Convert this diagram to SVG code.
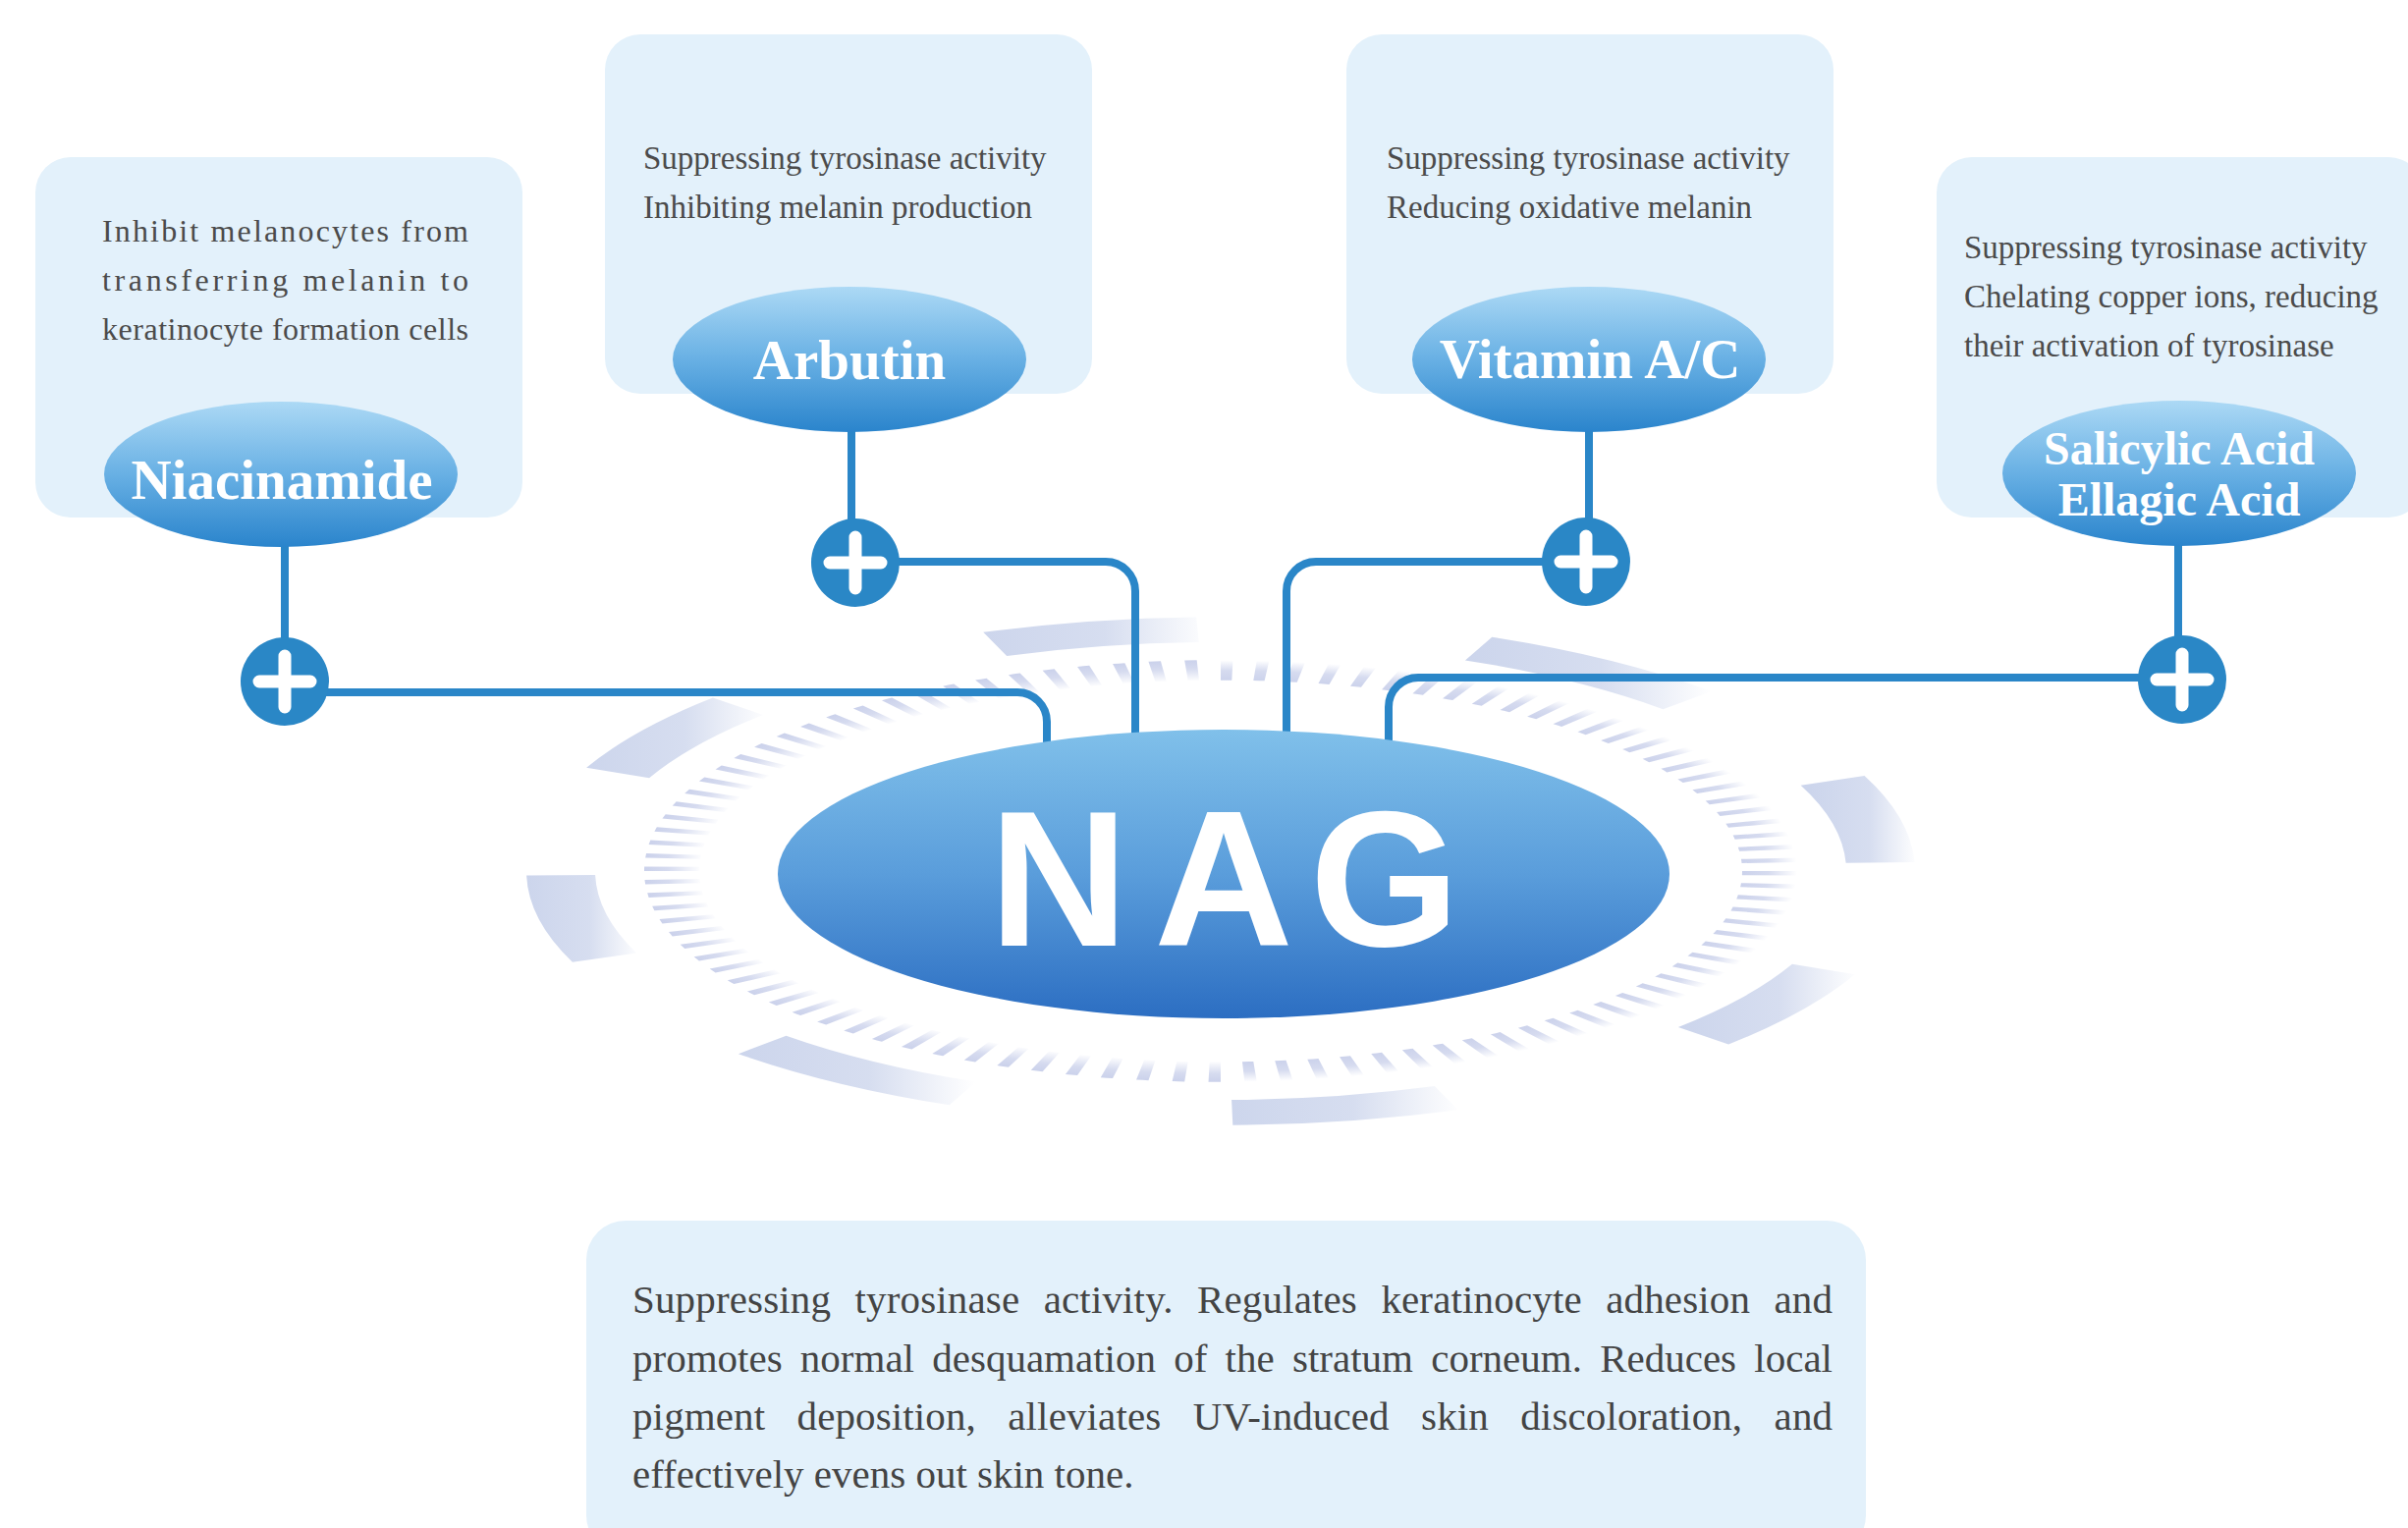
<svg xmlns="http://www.w3.org/2000/svg" width="2452" height="1556" viewBox="0 0 2452 1556">
<style>
.box{fill:#e3f1fb}
.desc{font-family:"Liberation Serif","Times New Roman",serif;font-size:33px;fill:#4b4b4b}
.body{font-family:"Liberation Serif","Times New Roman",serif;font-size:41px;fill:#444}
.lbl{font-family:"Liberation Serif","Times New Roman",serif;font-weight:bold;font-size:57px;fill:#fff;text-anchor:middle}
.conn{fill:none;stroke:#2a86c8;stroke-width:8;stroke-linecap:round}
.dot{fill:#2a87c6}
.plus{fill:none;stroke:#fff;stroke-width:13;stroke-linecap:round}
.tick{fill:none;stroke-width:56;stroke-dasharray:0.34 0.66}
.arc{fill:none;stroke-width:70}
</style>
<defs>
<linearGradient id="gSmall" x1="0" y1="0" x2="0" y2="1">
<stop offset="0" stop-color="#acd9f5"/>
<stop offset="0.5" stop-color="#68b0e4"/>
<stop offset="1" stop-color="#2a84cc"/>
</linearGradient>
<linearGradient id="gNag" x1="0" y1="0" x2="0" y2="1">
<stop offset="0" stop-color="#80c0ea"/>
<stop offset="0.5" stop-color="#5a9ddb"/>
<stop offset="1" stop-color="#2c6ec2"/>
</linearGradient>
<radialGradient id="tickL" gradientUnits="userSpaceOnUse" cx="0" cy="0" r="587">
<stop offset="0.9" stop-color="#c8cfea" stop-opacity="0"/>
<stop offset="0.96" stop-color="#c8cfea" stop-opacity="0.75"/>
<stop offset="1" stop-color="#c8cfea" stop-opacity="0.95"/>
</radialGradient>
<radialGradient id="tickR" gradientUnits="userSpaceOnUse" cx="0" cy="0" r="587">
<stop offset="0.9" stop-color="#c8cfea" stop-opacity="0.95"/>
<stop offset="0.95" stop-color="#c8cfea" stop-opacity="0.75"/>
<stop offset="1" stop-color="#c8cfea" stop-opacity="0"/>
</radialGradient>
<linearGradient id="a1" gradientUnits="userSpaceOnUse" x1="-250" y1="0" x2="-10" y2="0"><stop offset="0" stop-color="#ccd5ec"/><stop offset="0.55" stop-color="#ccd5ec" stop-opacity="0.8"/><stop offset="1" stop-color="#ccd5ec" stop-opacity="0"/></linearGradient>
<linearGradient id="a2" gradientUnits="userSpaceOnUse" x1="250" y1="0" x2="500" y2="0"><stop offset="0" stop-color="#ccd5ec"/><stop offset="0.55" stop-color="#ccd5ec" stop-opacity="0.8"/><stop offset="1" stop-color="#ccd5ec" stop-opacity="0"/></linearGradient>
<linearGradient id="a3" gradientUnits="userSpaceOnUse" x1="600" y1="0" x2="710" y2="0"><stop offset="0" stop-color="#ccd5ec"/><stop offset="0.55" stop-color="#ccd5ec" stop-opacity="0.8"/><stop offset="1" stop-color="#ccd5ec" stop-opacity="0"/></linearGradient>
<linearGradient id="a4" gradientUnits="userSpaceOnUse" x1="470" y1="0" x2="650" y2="0"><stop offset="0" stop-color="#ccd5ec"/><stop offset="0.55" stop-color="#ccd5ec" stop-opacity="0.8"/><stop offset="1" stop-color="#ccd5ec" stop-opacity="0"/></linearGradient>
<linearGradient id="a5" gradientUnits="userSpaceOnUse" x1="0" y1="0" x2="245" y2="0"><stop offset="0" stop-color="#ccd5ec"/><stop offset="0.55" stop-color="#ccd5ec" stop-opacity="0.8"/><stop offset="1" stop-color="#ccd5ec" stop-opacity="0"/></linearGradient>
<linearGradient id="a6" gradientUnits="userSpaceOnUse" x1="-490" y1="0" x2="-250" y2="0"><stop offset="0" stop-color="#ccd5ec"/><stop offset="0.55" stop-color="#ccd5ec" stop-opacity="0.8"/><stop offset="1" stop-color="#ccd5ec" stop-opacity="0"/></linearGradient>
<linearGradient id="a7" gradientUnits="userSpaceOnUse" x1="-707" y1="0" x2="-590" y2="0"><stop offset="0" stop-color="#ccd5ec"/><stop offset="0.55" stop-color="#ccd5ec" stop-opacity="0.8"/><stop offset="1" stop-color="#ccd5ec" stop-opacity="0"/></linearGradient>
<linearGradient id="a8" gradientUnits="userSpaceOnUse" x1="-650" y1="0" x2="-460" y2="0"><stop offset="0" stop-color="#ccd5ec"/><stop offset="0.55" stop-color="#ccd5ec" stop-opacity="0.8"/><stop offset="1" stop-color="#ccd5ec" stop-opacity="0"/></linearGradient>
<g id="plusIcon">
<circle class="dot" cx="0" cy="0" r="45"/>
<path class="plus" d="M-26 0H26M0 -26V26"/>
</g>
</defs>
<rect width="2452" height="1556" fill="#fff"/>

<g id="decor-ring" transform="translate(1243,887) scale(1,0.366)">
<path class="tick" stroke="url(#tickL)" pathLength="50" d="M0 559A559 559 0 0 1 0 -559"/>
<path class="tick" stroke="url(#tickR)" pathLength="50" d="M0 -559A559 559 0 0 1 0 559"/>
<path class="arc" stroke="url(#a1)" d="M-229.8 -631.5A672 672 0 0 1 -23.5 -671.6"/>
<path class="arc" stroke="url(#a2)" d="M262.6 -618.6A672 672 0 0 1 475.2 -475.2"/>
<path class="arc" stroke="url(#a3)" d="M623.1 -251.7A672 672 0 0 1 671.6 -23.5"/>
<path class="arc" stroke="url(#a4)" d="M613.9 273.3A672 672 0 0 1 491.5 458.3"/>
<path class="arc" stroke="url(#a5)" d="M229.8 631.5A672 672 0 0 1 11.7 671.9"/>
<path class="arc" stroke="url(#a6)" d="M-262.6 618.6A672 672 0 0 1 -466.8 483.4"/>
<path class="arc" stroke="url(#a7)" d="M-627.4 240.8A672 672 0 0 1 -671.9 11.7"/>
<path class="arc" stroke="url(#a8)" d="M-613.9 -273.3A672 672 0 0 1 -491.5 -458.3"/>
</g>

<g id="box-niacinamide"><rect class="box" x="36" y="160" width="496" height="367" rx="36"/>
<text class="desc" style="font-size:32px" x="104" y="246" textLength="373" lengthAdjust="spacing">Inhibit melanocytes from</text>
<text class="desc" style="font-size:32px" x="104" y="296" textLength="373" lengthAdjust="spacing">transferring melanin to</text>
<text class="desc" style="font-size:32px" x="104" y="346" textLength="373" lengthAdjust="spacing">keratinocyte formation cells</text></g>
<g id="box-arbutin"><rect class="box" x="616" y="35" width="496" height="366" rx="36"/>
<text class="desc" x="655" y="172">Suppressing tyrosinase activity</text>
<text class="desc" x="655" y="222">Inhibiting melanin production</text></g>
<g id="box-vitamin"><rect class="box" x="1371" y="35" width="496" height="366" rx="36"/>
<text class="desc" x="1412" y="172">Suppressing tyrosinase activity</text>
<text class="desc" x="1412" y="222">Reducing oxidative melanin</text></g>
<g id="box-acids"><rect class="box" x="1972" y="160" width="496" height="367" rx="36"/>
<text class="desc" x="2000" y="263">Suppressing tyrosinase activity</text>
<text class="desc" x="2000" y="313">Chelating copper ions, reducing</text>
<text class="desc" x="2000" y="363">their activation of tyrosinase</text></g>

<g id="connectors">
<path class="conn" d="M290 540V660"/>
<path class="conn" d="M330 705H1036A30 30 0 0 1 1066 735V775"/>
<path class="conn" d="M867 420V540"/>
<path class="conn" d="M912 572H1126A30 30 0 0 1 1156 602V770"/>
<path class="conn" d="M1618 420V540"/>
<path class="conn" d="M1570 572H1340A30 30 0 0 0 1310 602V770"/>
<path class="conn" d="M2218 540V660"/>
<path class="conn" d="M2177 690H1444A30 30 0 0 0 1414 720V775"/>
<use href="#plusIcon" x="290" y="694"/>
<use href="#plusIcon" x="871" y="573"/>
<use href="#plusIcon" x="1615" y="572"/>
<use href="#plusIcon" x="2222" y="692"/>
</g>

<g id="node-niacinamide"><ellipse cx="286" cy="483" rx="180" ry="74" fill="url(#gSmall)"/>
<text class="lbl" x="287" y="508">Niacinamide</text></g>
<g id="node-arbutin"><ellipse cx="865" cy="366" rx="180" ry="74" fill="url(#gSmall)"/>
<text class="lbl" x="865" y="386">Arbutin</text></g>
<g id="node-vitamin"><ellipse cx="1618" cy="366" rx="180" ry="74" fill="url(#gSmall)"/>
<text class="lbl" x="1619" y="385">Vitamin A/C</text></g>
<g id="node-acids"><ellipse cx="2219" cy="482" rx="180" ry="74" fill="url(#gSmall)"/>
<text class="lbl" style="font-size:48px" x="2219" y="473">Salicylic Acid</text>
<text class="lbl" style="font-size:48px" x="2219" y="525">Ellagic Acid</text></g>

<g id="node-nag"><ellipse cx="1246" cy="890" rx="454" ry="147" fill="url(#gNag)"/>
<text font-family="'Liberation Sans',Arial,sans-serif" font-weight="bold" font-size="196" fill="#fff" text-anchor="middle" y="963"><tspan x="1078">N</tspan><tspan x="1246">A</tspan><tspan x="1410">G</tspan></text></g>

<g id="summary"><rect class="box" x="597" y="1243" width="1303" height="340" rx="40"/>
<text class="body" x="644" y="1337" word-spacing="14" textLength="1222" lengthAdjust="spacing">Suppressing tyrosinase activity. Regulates keratinocyte adhesion and</text>
<text class="body" x="644" y="1397" word-spacing="8" textLength="1222" lengthAdjust="spacing">promotes normal desquamation of the stratum corneum. Reduces local</text>
<text class="body" x="644" y="1456" word-spacing="22" textLength="1222" lengthAdjust="spacing">pigment deposition, alleviates UV-induced skin discoloration, and</text>
<text class="body" x="644" y="1515">effectively evens out skin tone.</text></g>
</svg>
